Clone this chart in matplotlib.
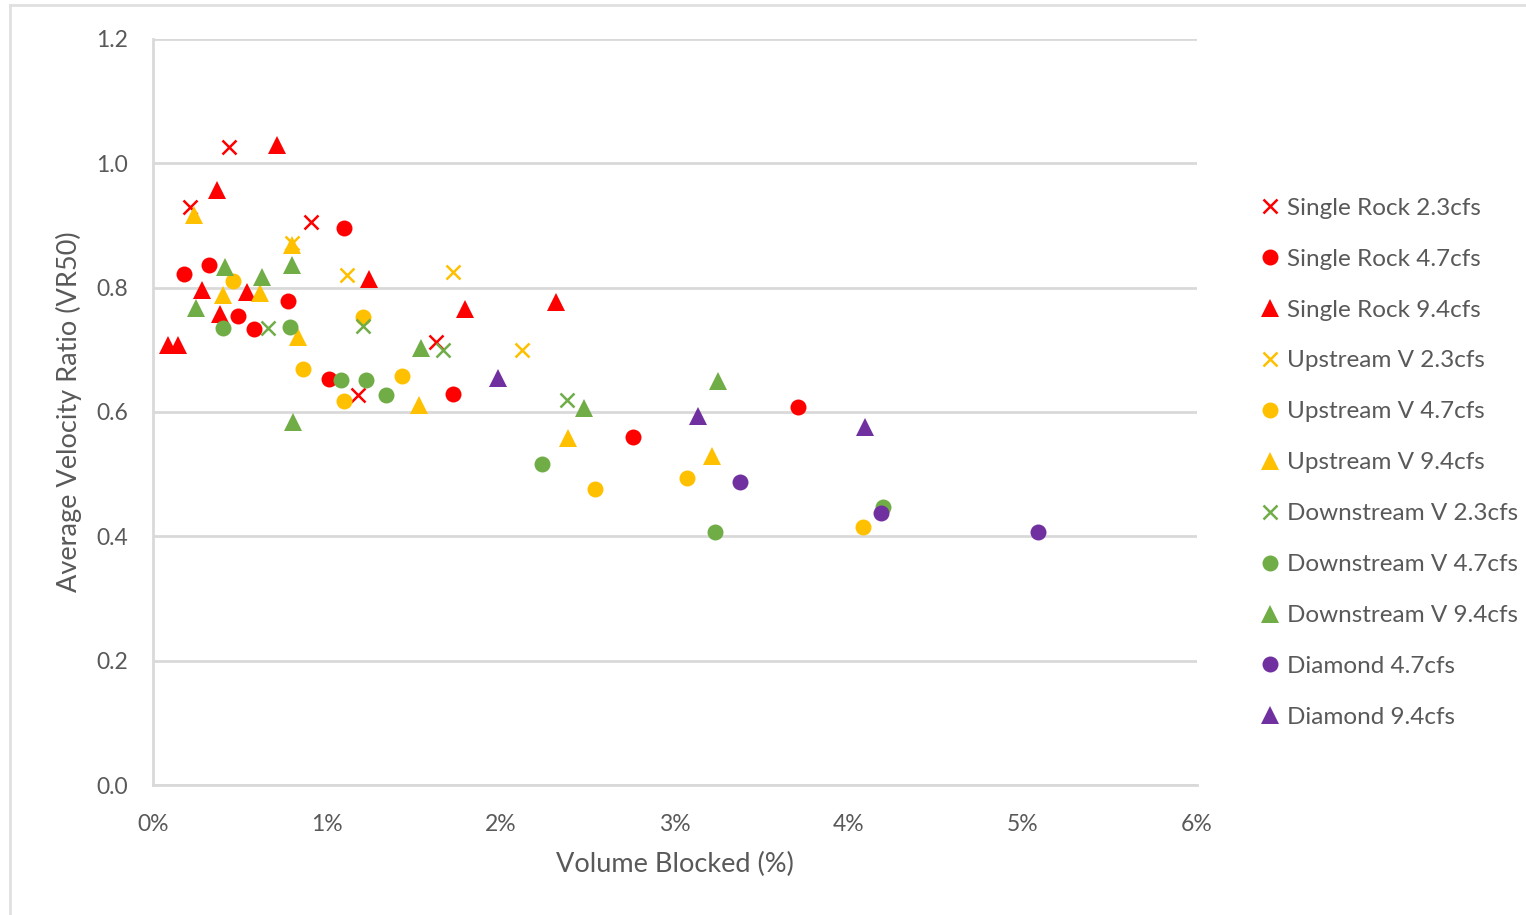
import matplotlib
matplotlib.use('Agg')
import matplotlib.pyplot as plt
from matplotlib.lines import Line2D

# data (x in %, y = VR50)
sr23_x = [0.437, 0.213, 0.908, 1.626, 1.178]
sr23_y = [1.026, 0.930, 0.906, 0.713, 0.627]
sr47_x = [0.178, 0.322, 1.098, 0.489, 0.580, 0.776, 1.011, 1.724, 2.759, 3.707]
sr47_y = [0.822, 0.836, 0.896, 0.754, 0.733, 0.778, 0.653, 0.629, 0.560, 0.608]
sr94_x = [0.713, 0.368, 0.282, 0.540, 0.385, 0.086, 0.144, 1.241, 1.793, 2.316]
sr94_y = [1.029, 0.957, 0.796, 0.793, 0.758, 0.708, 0.708, 0.814, 0.766, 0.777]
up23_x = [0.800, 1.115, 1.724, 2.121]
up23_y = [0.872, 0.820, 0.825, 0.700]
up47_x = [0.460, 1.207, 0.862, 1.098, 1.431, 2.540, 3.069, 4.080]
up47_y = [0.811, 0.753, 0.669, 0.618, 0.658, 0.476, 0.494, 0.415]
up94_x = [0.236, 0.800, 0.402, 0.615, 0.833, 1.529, 2.385, 3.213]
up94_y = [0.917, 0.869, 0.788, 0.791, 0.721, 0.611, 0.558, 0.529]
dn23_x = [0.661, 1.207, 1.667, 2.379]
dn23_y = [0.735, 0.738, 0.700, 0.619]
dn47_x = [0.402, 0.787, 1.080, 1.224, 1.339, 2.236, 3.230, 4.195]
dn47_y = [0.735, 0.737, 0.651, 0.651, 0.627, 0.516, 0.407, 0.447]
dn94_x = [0.414, 0.626, 0.800, 0.247, 0.805, 1.540, 2.477, 3.247]
dn94_y = [0.833, 0.817, 0.836, 0.767, 0.584, 0.703, 0.606, 0.650]
dm47_x = [3.374, 4.184, 5.086]
dm47_y = [0.487, 0.437, 0.407]
dm94_x = [1.983, 3.132, 4.092]
dm94_y = [0.655, 0.594, 0.576]

labels = ['Single Rock 2.3cfs', 'Single Rock 4.7cfs', 'Single Rock 9.4cfs',
          'Upstream V 2.3cfs', 'Upstream V 4.7cfs', 'Upstream V 9.4cfs',
          'Downstream V 2.3cfs', 'Downstream V 4.7cfs', 'Downstream V 9.4cfs',
          'Diamond 4.7cfs', 'Diamond 9.4cfs']

red = '#FF0000'
yel = '#FFC000'
grn = '#70AD47'
pur = '#7030A0'
txt = '#595959'
gridc = '#D9D9D9'

series = [(sr23_x, sr23_y, red, 'x'), (sr47_x, sr47_y, red, 'o'), (sr94_x, sr94_y, red, '^'),
          (up23_x, up23_y, yel, 'x'), (up47_x, up47_y, yel, 'o'), (up94_x, up94_y, yel, '^'),
          (dn23_x, dn23_y, grn, 'x'), (dn47_x, dn47_y, grn, 'o'), (dn94_x, dn94_y, grn, '^'),
          (dm47_x, dm47_y, pur, 'o'), (dm94_x, dm94_y, pur, '^')]

plt.rcParams['font.family'] = ['Lato', 'DejaVu Sans']

fig = plt.figure(figsize=(15.26, 9.15), dpi=100)
ax = fig.add_axes([153/1526, 1-785/915, (1197-153)/1526, (785-39)/915])

handles = []
for (x, y, c, m), lab in zip(series, labels):
    if m == 'x':
        ax.plot(x, y, linestyle='', marker='x', color=c, markersize=10, markeredgewidth=1.8, zorder=3)
        h = Line2D([], [], linestyle='', marker='x', color=c, markersize=10, markeredgewidth=1.8)
    elif m == 'o':
        ax.plot(x, y, linestyle='', marker='o', color=c, markersize=11.5, markeredgewidth=0, zorder=3)
        h = Line2D([], [], linestyle='', marker='o', color=c, markersize=11.5, markeredgewidth=0)
    else:
        ax.plot(x, y, linestyle='', marker='^', color=c, markersize=12.5, markeredgewidth=0, zorder=3)
        h = Line2D([], [], linestyle='', marker='^', color=c, markersize=12.5, markeredgewidth=0)
    handles.append(h)

ax.set_xlim(0, 6)
ax.set_ylim(0, 1.2)
ax.set_xticks(range(0, 7))
ax.set_xticklabels(['%d%%' % i for i in range(0, 7)])
ax.set_yticks([0, 0.2, 0.4, 0.6, 0.8, 1.0, 1.2])
ax.set_yticklabels(['0.0', '0.2', '0.4', '0.6', '0.8', '1.0', '1.2'])
ax.grid(axis='y', color=gridc, linewidth=2)
ax.set_axisbelow(True)
for s in ['top', 'right']:
    ax.spines[s].set_visible(False)
for s in ['left', 'bottom']:
    ax.spines[s].set_color(gridc)
    ax.spines[s].set_linewidth(2)
ax.tick_params(length=0, labelsize=16.5, colors=txt)
ax.tick_params(axis='x', pad=21)
ax.tick_params(axis='y', pad=18)
ax.set_xlabel('Volume Blocked (%)', fontsize=19.5, color=txt, labelpad=12)
ax.set_ylabel('Average Velocity Ratio (VR50)', fontsize=19.5, color=txt, labelpad=10)

leg = fig.legend(handles, labels, loc='upper left', bbox_to_anchor=(1251/1526, 1-188/915),
                 frameon=False, fontsize=17.5, labelspacing=1.23, handlelength=0.8,
                 handletextpad=0.3, borderaxespad=0)
for t in leg.get_texts():
    t.set_color(txt)

# thin frame of the screenshot
fig.add_artist(Line2D([10/1526, 1], [1-5/915, 1-5/915], color='#E0E0E0', linewidth=2))
fig.add_artist(Line2D([10/1526, 10/1526], [0, 1-5/915], color='#E0E0E0', linewidth=2))

fig.savefig('out.png', dpi=100)
